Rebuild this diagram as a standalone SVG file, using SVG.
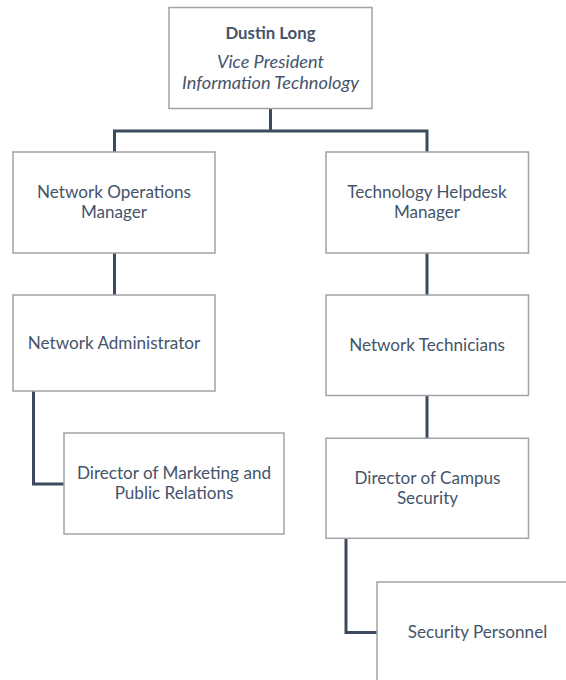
<svg xmlns="http://www.w3.org/2000/svg" width="566" height="680" viewBox="0 0 566 680">
<style>
.box{fill:#fff;stroke:#A3A3A3;stroke-width:1.5}
.t{font-family:Lato,"Open Sans","Liberation Sans",sans-serif;font-size:17.1px;fill:#44546A;text-anchor:middle}
.b{font-weight:bold;font-size:16.8px}
.i{font-style:italic;font-size:18.2px}
.c{fill:none;stroke:#3C4A5F;stroke-width:3;stroke-linejoin:miter;stroke-linecap:butt}
</style>
<rect width="566" height="680" fill="#fff"/>
<g id="connectors">
<path class="c" d="M270.5,108 V131 M114.5,152 V131 H427 V152"/>
<path class="c" d="M114.5,253 V295"/>
<path class="c" d="M427,253 V295"/>
<path class="c" d="M33.5,391 V484 H64"/>
<path class="c" d="M427,396 V438"/>
<path class="c" d="M346,538 V632.5 H377"/>
</g>
<g id="vp">
<rect class="box" x="169" y="7.5" width="203" height="101"/>
<text class="t b" x="270.5" y="39.3">Dustin Long</text>
<text class="t i" x="270.5" y="67.7">Vice President</text>
<text class="t i" x="270.5" y="88.7">Information Technology</text>
</g>
<g id="nom">
<rect class="box" x="13" y="152" width="202" height="101"/>
<text class="t" x="114" y="198.3">Network Operations</text>
<text class="t" x="114" y="218.3">Manager</text>
</g>
<g id="thm">
<rect class="box" x="326" y="152" width="202.5" height="101"/>
<text class="t" x="427" y="198.3">Technology Helpdesk</text>
<text class="t" x="427" y="218.3">Manager</text>
</g>
<g id="na">
<rect class="box" x="13" y="295" width="202" height="96"/>
<text class="t" x="114" y="349.3">Network Administrator</text>
</g>
<g id="nt">
<rect class="box" x="326" y="295" width="202.5" height="100.5"/>
<text class="t" x="427" y="351">Network Technicians</text>
</g>
<g id="dmpr">
<rect class="box" x="64" y="433" width="220" height="101"/>
<text class="t" x="174" y="479.3">Director of Marketing and</text>
<text class="t" x="174" y="499.3">Public Relations</text>
</g>
<g id="dcs">
<rect class="box" x="326" y="438.3" width="202.5" height="100"/>
<text class="t" x="427.5" y="484">Director of Campus</text>
<text class="t" x="427.5" y="504.3">Security</text>
</g>
<g id="sp">
<rect class="box" x="377" y="582" width="202" height="101"/>
<text class="t" x="477.5" y="638.3">Security Personnel</text>
</g>
</svg>
